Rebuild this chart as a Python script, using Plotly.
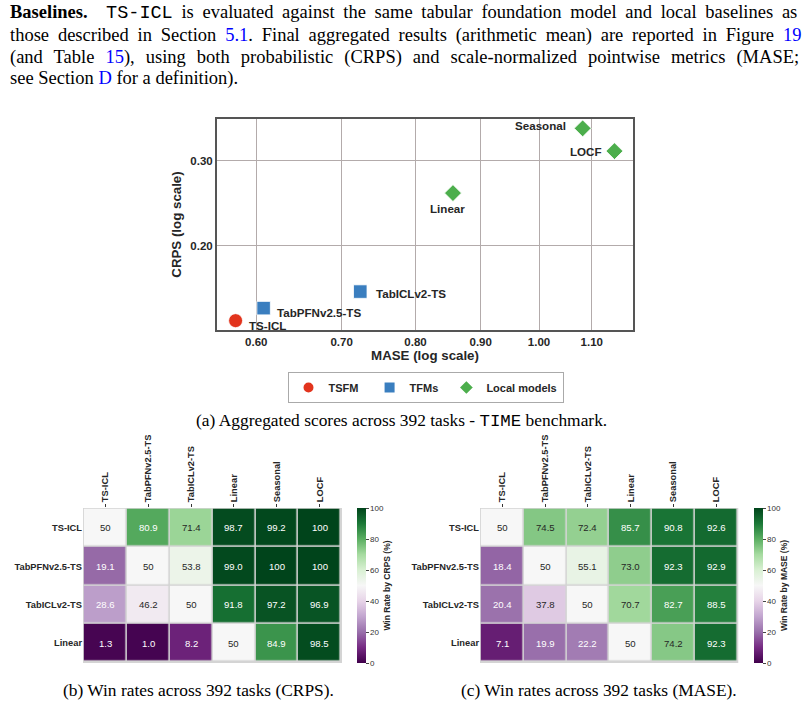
import numpy as np
import plotly.graph_objects as go

W, H = 804, 707

# ---------------- data ----------------
models = ["TS-ICL", "TabPFNv2.5-TS", "TabICLv2-TS", "Linear", "Seasonal", "LOCF"]
groups = ["TSFM", "TFMs", "TFMs", "Local models", "Local models", "Local models"]
mase = [0.578, 0.608, 0.724, 0.856, 1.082, 1.146]
crps = [0.1398, 0.1484, 0.1606, 0.257, 0.350, 0.314]

x_ticks = [0.60, 0.70, 0.80, 0.90, 1.00, 1.10]
y_ticks = [0.20, 0.30]

row_models = ["TS-ICL", "TabPFNv2.5-TS", "TabICLv2-TS", "Linear"]
col_models = ["TS-ICL", "TabPFNv2.5-TS", "TabICLv2-TS", "Linear", "Seasonal", "LOCF"]
crps_win = [
    [50, 80.9, 71.4, 98.7, 99.2, 100],
    [19.1, 50, 53.8, 99.0, 100, 100],
    [28.6, 46.2, 50, 91.8, 97.2, 96.9],
    [1.3, 1.0, 8.2, 50, 84.9, 98.5],
]
mase_win = [
    [50, 74.5, 72.4, 85.7, 90.8, 92.6],
    [18.4, 50, 55.1, 73.0, 92.3, 92.9],
    [20.4, 37.8, 50, 70.7, 82.7, 88.5],
    [7.1, 19.9, 22.2, 50, 74.2, 92.3],
]
cbar_ticks = [0, 20, 40, 60, 80, 100]

# ---------------- styles ----------------
SANS = "Liberation Sans"
SERIF = "Liberation Serif"
MONO = "Liberation Mono"
LINK = "#0000ff"
group_style = {
    "TSFM": dict(symbol="circle", color="#e2341d", size=14, pad=2),
    "TFMs": dict(symbol="square", color="#3a7ebf", size=13.5, pad=1),
    "Local models": dict(symbol="diamond", color="#4cae4c", size=13, pad=0),
}
label_pos = {
    "TS-ICL": ("left", 11, -5),
    "TabPFNv2.5-TS": ("left", 11, -4),
    "TabICLv2-TS": ("left", 14, -2),
    "Linear": ("center", -5, -15),
    "Seasonal": ("right", -15, 3),
    "LOCF": ("right", -10, 0),
}


def fx(px):
    return px / W


def fy(py):
    return 1 - py / H


def seg_line(segs, ws):
    out = []
    for txt, kind in segs:
        st = f"word-spacing:{ws}px;"
        if kind == "mono":
            st += f"font-family:{MONO};"
        elif kind == "link":
            st += f"color:{LINK};"
        if kind == "bold":
            out.append(f"<b><span style='{st}'>{txt}</span></b>")
        else:
            out.append(f"<span style='{st}'>{txt}</span>")
    return "".join(out)


text_segments = [
    [("Baselines.", "bold"), ("\u2003", ""), ("TS-ICL", "mono"),
     (" is evaluated against the same tabular foundation model and local baselines as", "")],
    [("those described in Section ", ""), ("5.1", "link"),
     (". Final aggregated results (arithmetic mean) are reported in Figure ", ""), ("19", "link")],
    [("(and Table ", ""), ("15", "link"),
     ("), using both probabilistic (CRPS) and scale-normalized pointwise metrics (MASE;", "")],
    [("see Section ", ""), ("D", "link"), (" for a definition).", "")],
]
line_ws = [4.1, 4.2, 6.4, 0]
line_y = [13, 35, 57, 79]

fig = go.Figure()

# ---------------- scatter ----------------
for g in ["TSFM", "TFMs", "Local models"]:
    idx = [i for i, gg in enumerate(groups) if gg == g]
    st = group_style[g]
    fig.add_trace(go.Scatter(
        x=[mase[i] for i in idx], y=[crps[i] for i in idx],
        mode="markers", name=f"<b>{g}</b>" + "\u00a0" * st["pad"],
        marker=dict(symbol=st["symbol"], color=st["color"], size=st["size"],
                    line=dict(color="white", width=0.8)),
        xaxis="x", yaxis="y", hoverinfo="skip",
    ))

annotations = []
for m, xv, yv in zip(models, mase, crps):
    anc, xs, ys = label_pos[m]
    annotations.append(dict(
        x=np.log10(xv), y=np.log10(yv), xref="x", yref="y", text=f"<b>{m}</b>",
        showarrow=False, xanchor=anc, yanchor="middle", xshift=xs, yshift=ys,
        font=dict(family=SANS, size=11.6, color="#262626"),
    ))

# ---------------- heatmaps ----------------
def fmt(v):
    return str(int(v)) if v in (50, 100) else f"{v:.1f}"


def add_heatmap(z, xa, ya, cb_x, cb_title):
    fig.add_trace(go.Heatmap(
        z=z, x=col_models, y=row_models, colorscale="PRGn", zmin=0, zmax=100,
        xgap=1.6, ygap=1.6, xaxis=xa, yaxis=ya, hoverinfo="skip",
        colorbar=dict(
            x=fx(cb_x), xanchor="left", xpad=0, ypad=0,
            y=fy(585.5), yanchor="middle", len=155 / H, thickness=8.5,
            outlinewidth=0, tickvals=cbar_ticks, ticks="outside", ticklen=3,
            tickcolor="#444", tickfont=dict(family=SANS, size=8, color="#333"),
            title=dict(text=f"<b>{cb_title}</b>", side="right",
                       font=dict(family=SANS, size=8.5, color="#262626")),
        ),
    ))
    for r, row in enumerate(z):
        for c, v in enumerate(row):
            col = "white" if (v < 30 or v > 78) else "#262626"
            annotations.append(dict(
                x=col_models[c], y=row_models[r], xref=xa, yref=ya, text=fmt(v),
                showarrow=False, font=dict(family=SANS, size=9.6, color=col),
            ))
    fig.add_shape(type="rect", xref=xa, yref=ya, x0=-0.52, x1=5.52, y0=-0.52, y1=3.52,
                  fillcolor="#d4d4d4", line=dict(width=0), layer="below")


add_heatmap(crps_win, "x2", "y2", 357, "Win Rate by CRPS (%)")
add_heatmap(mase_win, "x3", "y3", 754, "Win Rate by MASE (%)")

# ---------------- text ----------------
for segs, ws, yy in zip(text_segments, line_ws, line_y):
    annotations.append(dict(
        x=fx(8), y=fy(yy), xref="paper", yref="paper", text=seg_line(segs, ws), showarrow=False,
        xanchor="left", yanchor="middle", font=dict(family=SERIF, size=18.5, color="black"),
    ))
captions = [
    ("(a) Aggregated scores across 392 tasks - <span style='font-family:" + MONO + "'>TIME</span> benchmark.", 401, 420),
    ("(b) Win rates across 392 tasks (CRPS).", 198, 690),
    ("(c) Win rates across 392 tasks (MASE).", 599, 690),
]
for t, xx, yy in captions:
    annotations.append(dict(
        x=fx(xx), y=fy(yy), xref="paper", yref="paper", text=t, showarrow=False,
        xanchor="center", yanchor="middle", font=dict(family=SERIF, size=17.4, color="black"),
    ))

hm_x_common = dict(side="top", tickangle=-90, ticks="outside", ticklen=3, tickcolor="#333",
                   tickfont=dict(family=SANS, size=9.3, color="#262626"), showgrid=False,
                   zeroline=False, range=[-0.52, 5.52], showline=False, fixedrange=True)
hm_y_common = dict(ticks="", tickfont=dict(family=SANS, size=9.3, color="#262626"),
                   showgrid=False, zeroline=False, range=[3.52, -0.52], showline=False,
                   fixedrange=True)

fig.update_layout(
    width=W, height=H, margin=dict(l=0, r=0, t=0, b=0),
    paper_bgcolor="white", plot_bgcolor="white",
    font=dict(family=SANS, color="#262626"),
    showlegend=True,
    legend=dict(orientation="h", x=fx(425.5), xanchor="center", y=fy(372), yanchor="top",
                bordercolor="#aaaaaa", borderwidth=1, bgcolor="white",
                font=dict(family=SANS, size=11, color="#262626"),
                itemsizing="constant", traceorder="normal"),
    xaxis=dict(type="log", domain=[fx(217), fx(633)],
               range=[np.log10(0.5589), np.log10(1.185)],
               tickvals=x_ticks, ticktext=[f"<b>{v:.2f}</b>" for v in x_ticks],
               tickfont=dict(family=SANS, size=11.5, color="#262626"),
               showgrid=True, gridcolor="#b3abab", gridwidth=1.3,
               showline=True, mirror=True, linecolor="#555555", linewidth=2,
               ticks="", zeroline=False, anchor="y",
               title=dict(text="<b>MASE (log scale)</b>", standoff=4,
                          font=dict(family=SANS, size=13.3, color="#262626"))),
    yaxis=dict(type="log", domain=[fy(330), fy(119)],
               range=[np.log10(0.1337), np.log10(0.366)],
               tickvals=y_ticks, ticktext=[f"<b>{v:.2f}</b>" for v in y_ticks],
               tickfont=dict(family=SANS, size=11.5, color="#262626"),
               showgrid=True, gridcolor="#b3abab", gridwidth=1.3,
               showline=True, mirror=True, linecolor="#555555", linewidth=2,
               ticks="", zeroline=False, anchor="x",
               title=dict(text="<b>CRPS (log scale)</b>", standoff=6,
                          font=dict(family=SANS, size=13.3, color="#262626"))),
    xaxis2=dict(domain=[fx(83), fx(342)], anchor="y2",
                tickvals=col_models, ticktext=[f"<b>{m}</b>" for m in col_models], **hm_x_common),
    yaxis2=dict(domain=[fy(663), fy(508)], anchor="x2",
                tickvals=row_models, ticktext=[f"<b>{m}</b>" for m in row_models], **hm_y_common),
    xaxis3=dict(domain=[fx(480), fx(738.5)], anchor="y3",
                tickvals=col_models, ticktext=[f"<b>{m}</b>" for m in col_models], **hm_x_common),
    yaxis3=dict(domain=[fy(663), fy(508)], anchor="x3",
                tickvals=row_models, ticktext=[f"<b>{m}</b>" for m in row_models], **hm_y_common),
    annotations=annotations,
)

fig.write_html("out.html")
